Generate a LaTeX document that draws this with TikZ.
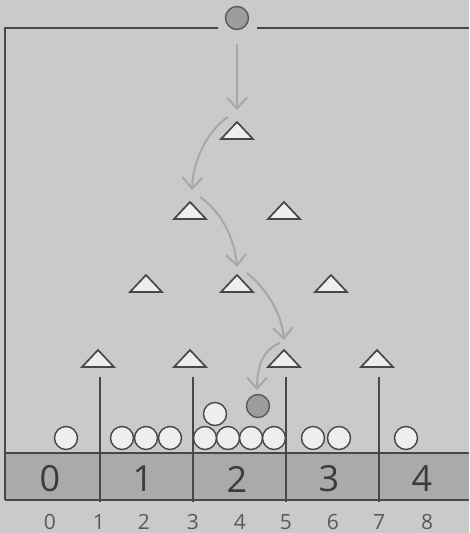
\documentclass[tikz,border=0pt]{standalone}
\usepackage{fontspec}
\setmainfont{Open Sans}
\usetikzlibrary{arrows.meta,calc}
\definecolor{bg}{HTML}{C9CACC}
\definecolor{barfill}{HTML}{A9AAAC}
\definecolor{ink}{HTML}{484848}
\definecolor{path}{HTML}{A6A7A9}
\definecolor{ballwhite}{HTML}{EEEEEE}
\definecolor{balldark}{HTML}{9C9C9C}
\definecolor{labelink}{HTML}{3C3C3C}
\definecolor{axisink}{HTML}{5A5A5A}
\tikzset{
  peg/.style={fill=ballwhite,draw=ink,line width=1.7pt,line join=miter},
  ball/.style={circle,fill=ballwhite,draw=ink,line width=1.4pt,minimum size=23pt,inner sep=0pt},
  darkball/.style={ball,fill=balldark,draw=axisink},
  frameline/.style={draw=ink,line width=1.6pt},
  divider/.style={draw=ink,line width=1.3pt},
  route/.style={draw=path,line width=2pt,-{Straight Barb[length=11pt,width=20pt,line width=2pt]}},
  binlabel/.style={font=\fontsize{36}{36}\selectfont,text=labelink,inner sep=0pt},
  slotlabel/.style={font=\fontsize{21}{21}\selectfont,text=axisink,inner sep=0pt,anchor=base}
}
\begin{document}
\begin{tikzpicture}[x=1pt,y=-1pt]
  % canvas
  \fill[bg] (0,0) rectangle (469,533);
  \useasboundingbox (0,0) rectangle (469,533);

  % bin bar
  \fill[barfill] (5,453) rectangle (469,500);
  \draw[frameline] (5,453) -- (469,453);
  \draw[frameline] (5,500) -- (469,500);

  % outer frame with an opening at the top
  \draw[frameline] (218,28) -- (5,28) -- (5,500);
  \draw[frameline] (257,28) -- (469,28);

  % pegs
  \foreach \n/\x/\y in {t1/237/130,
      t21/190/210,t22/284/210,
      t31/146/283,t32/237/283,t33/331/283,
      t41/98/358,t42/190/358,t43/284/358,t44/377/358}{
    \coordinate (\n) at (\x,\y);
    \draw[peg] ($(\n)+(-16,9)$) -- ($(\n)+(0,-8)$) -- ($(\n)+(16,9)$) -- cycle;
  }

  % bin dividers
  \foreach \x in {100,193,286,379}{
    \draw[divider] (\x,377) -- (\x,502);
  }

  % falling ball and its route
  \node[darkball] (drop) at (237,18) {};
  \coordinate (a0) at (237,44);
  \coordinate (a1) at (237,110);
  \draw[route] (a0) -- (a1);
  \draw[route] ($(t1)+(-9,-13)$) .. controls ($(t1)+(-29,0)$) and ($(t21)+(3,-50)$) .. ($(t21)+(2,-20)$);
  \draw[route] ($(t21)+(10,-13)$) .. controls ($(t21)+(32,2)$) and ($(t32)+(-2,-43)$) .. ($(t32)+(0,-16)$);
  \draw[route] ($(t32)+(10,-10)$) .. controls ($(t32)+(31,7)$) and ($(t43)+(-2,-43)$) .. ($(t43)+(0,-18)$);
  \draw[route] ($(t43)+(-4,-15)$) .. controls ($(t43)+(-22,-8)$) and ($(t43)+(-27,10)$) .. ($(t43)+(-27,32)$);

  % collected balls
  \foreach \n/\x in {b1/66,b2/122,b3/146,b4/170,b5/205,b6/228,b7/251,b8/274,b9/313,b10/339,b11/406}{
    \node[ball] (\n) at (\x,438) {};
  }
  \node[ball] (b12) at (215,414) {};
  \node[darkball] (last) at (258,406) {};

  % bin numbers
  \foreach \n/\x/\t in {l0/50/0,l1/143/1,l2/237/2,l3/329/3,l4/422/4}{
    \node[binlabel] (\n) at (\x,479) {\t};
  }

  % slot numbers
  \foreach \n/\x/\t in {s0/50/0,s1/99/1,s2/144/2,s3/193/3,s4/240/4,s5/286/5,s6/333/6,s7/379/7,s8/427/8}{
    \node[slotlabel] (\n) at (\x,529) {\t};
  }
\end{tikzpicture}
\end{document}
